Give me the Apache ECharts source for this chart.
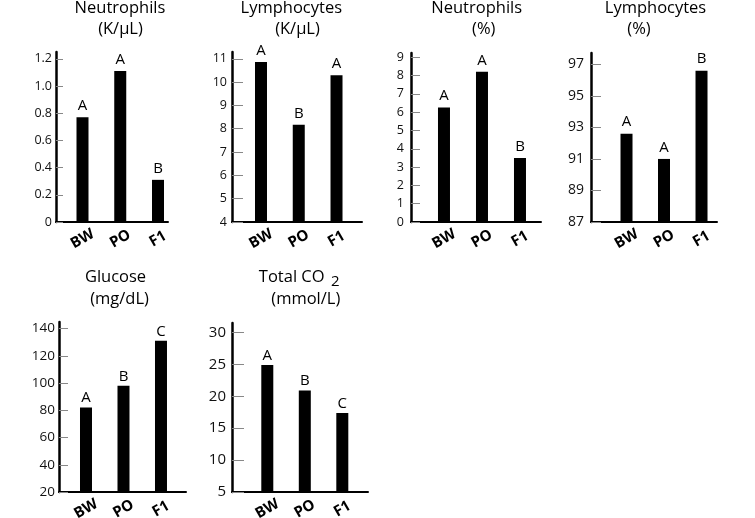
<!DOCTYPE html>
<html><head><meta charset="utf-8">
<script src="https://cdn.jsdelivr.net/npm/echarts@6/dist/echarts.min.js"></script>
<style>html,body{margin:0;padding:0;background:#fff}#c{width:755px;height:518px}</style>
</head><body><div id="c"></div>
<script>
// ---- data ----
const categories = ['BW', 'PO', 'F1'];

const neutroK = [0.77, 1.11, 0.31];
const lymphoK = [10.86, 8.17, 10.29];
const neutroPct = [6.25, 8.2, 3.5];
const lymphoPct = [92.6, 91.0, 96.6];
const glucose = [82, 98, 131];
const co2 = [24.9, 20.9, 17.4];

const lettersNeutroK = ['A', 'A', 'B'];
const lettersLymphoK = ['A', 'B', 'A'];
const lettersNeutroPct = ['A', 'A', 'B'];
const lettersLymphoPct = ['A', 'A', 'B'];
const lettersGlucose = ['A', 'B', 'C'];
const lettersCO2 = ['A', 'B', 'C'];

const ticksNeutroK = ['0', '0.2', '0.4', '0.6', '0.8', '1.0', '1.2'];
const ticksLymphoK = ['4', '5', '6', '7', '8', '9', '10', '11'];
const ticksNeutroPct = ['0', '1', '2', '3', '4', '5', '6', '7', '8', '9'];
const ticksLymphoPct = ['87', '89', '91', '93', '95', '97'];
const ticksGlucose = ['20', '40', '60', '80', '100', '120', '140'];
const ticksCO2 = ['5', '10', '15', '20', '25', '30'];

const titlesLine1 = ['Neutrophils', 'Lymphocytes', 'Neutrophils', 'Lymphocytes', 'Glucose', 'Total CO'];
const titlesLine2 = ['(K/µL)', '(K/µL)', '(%)', '(%)', '(mg/dL)', '(mmol/L)'];

// ---- layout ----
const FONT = 'Open Sans';
const panels = [
  {values: neutroK, letters: lettersNeutroK, ticks: ticksNeutroK,
   grid: {left: 56, top: 52, width: 112, height: 170}, xMin: -0.702, xMax: 2.265, yMin: 0, yMax: 1.25,
   tickLen: 7, lblSize: 12.5, lblMargin: 4, dist: 4,
   t1: [120, 8.5], t2: [120.5, 29]},
  {values: lymphoK, letters: lettersLymphoK, ticks: ticksLymphoK,
   grid: {left: 232, top: 52, width: 130, height: 170}, xMin: -0.768, xMax: 2.675, yMin: 4, yMax: 11.29,
   tickLen: 11, lblSize: 12.5, lblMargin: 5, dist: 4,
   t1: [291.3, 8.5], t2: [297.5, 29]},
  {values: neutroPct, letters: lettersNeutroPct, ticks: ticksNeutroPct,
   grid: {left: 411, top: 53, width: 130, height: 169}, xMin: -0.868, xMax: 2.553, yMin: 0, yMax: 9.23,
   tickLen: 9, lblSize: 12.5, lblMargin: 7, dist: 4,
   t1: [476.7, 8.5], t2: [483.8, 29]},
  {values: lymphoPct, letters: lettersLymphoPct, ticks: ticksLymphoPct,
   grid: {left: 591, top: 53, width: 126, height: 169}, xMin: -0.947, xMax: 2.413, yMin: 87, yMax: 97.72,
   tickLen: 10, lblSize: 14, lblMargin: 7, dist: 4,
   t1: [655.5, 8.5], t2: [639, 29]},
  {values: glucose, letters: lettersGlucose, ticks: ticksGlucose,
   grid: {left: 59, top: 322, width: 127, height: 170}, xMin: -0.72, xMax: 2.667, yMin: 20, yMax: 144.8,
   tickLen: 9, lblSize: 13.5, lblMargin: 4, dist: 2,
   t1: [115.5, 277.5], t2: [119.5, 299.5]},
  {values: co2, letters: lettersCO2, ticks: ticksCO2,
   grid: {left: 232, top: 323, width: 136, height: 169}, xMin: -0.941, xMax: 2.685, yMin: 5, yMax: 31.5,
   tickLen: 12, lblSize: 15, lblMargin: 6, dist: 2,
   t1: [291.7, 277.5], t2: [305.8, 299.5]}
];

const grid = [], xAxis = [], yAxis = [], series = [], graphic = [];
panels.forEach((p, i) => {
  const tickVals = p.ticks.map(Number);
  grid.push(Object.assign({outerBoundsMode: 'none', containLabel: false}, p.grid));
  xAxis.push({
    type: 'value', gridIndex: i, min: p.xMin, max: p.xMax,
    axisLine: {show: true, onZero: false, lineStyle: {color: '#000', width: 2}},
    axisTick: {show: false}, splitLine: {show: false},
    axisLabel: {
      customValues: categories.map((c, j) => j),
      formatter: v => categories[Math.round(v)],
      rotate: 30, align: 'center', verticalAlign: 'middle', margin: 17,
      fontFamily: FONT, fontWeight: 'bold', fontSize: 15, color: '#000'
    }
  });
  yAxis.push({
    type: 'value', gridIndex: i, min: p.yMin, max: p.yMax,
    axisLine: {show: true, onZero: false, lineStyle: {color: '#000', width: 2.5}},
    axisTick: {show: true, inside: true, length: p.tickLen, customValues: tickVals,
               lineStyle: {color: '#888', width: 1}},
    splitLine: {show: false},
    axisLabel: {
      customValues: tickVals,
      formatter: v => {
        let best = 0;
        tickVals.forEach((t, k) => { if (Math.abs(t - v) < Math.abs(tickVals[best] - v)) best = k; });
        return p.ticks[best];
      },
      margin: p.lblMargin, fontFamily: FONT, fontSize: p.lblSize, color: '#111'
    }
  });
  series.push({
    type: 'bar', xAxisIndex: i, yAxisIndex: i, barWidth: 12,
    data: categories.map((c, j) => [j, p.values[j]]),
    itemStyle: {color: '#000'},
    label: {show: true, position: 'top', distance: p.dist,
            formatter: q => p.letters[q.dataIndex],
            fontFamily: FONT, fontSize: 15, color: '#000'},
    silent: true, animation: false
  });
  graphic.push({type: 'text', x: p.t1[0], y: p.t1[1],
    style: {text: titlesLine1[i], fontFamily: FONT, fontSize: 16.5, fill: '#000', align: 'center', verticalAlign: 'middle'}});
  graphic.push({type: 'text', x: p.t2[0], y: p.t2[1],
    style: {text: titlesLine2[i], fontFamily: FONT, fontSize: 16.5, fill: '#000', align: 'center', verticalAlign: 'middle'}});
});
// subscript "2" of CO2
graphic.push({type: 'text', x: 331, y: 281.5,
  style: {text: '2', fontFamily: FONT, fontSize: 15, fill: '#000', align: 'left', verticalAlign: 'middle'}});

const chart = echarts.init(document.getElementById('c'), null, {renderer: 'canvas'});
chart.setOption({animation: false, backgroundColor: '#fff', grid, xAxis, yAxis, series, graphic});
</script></body></html>
